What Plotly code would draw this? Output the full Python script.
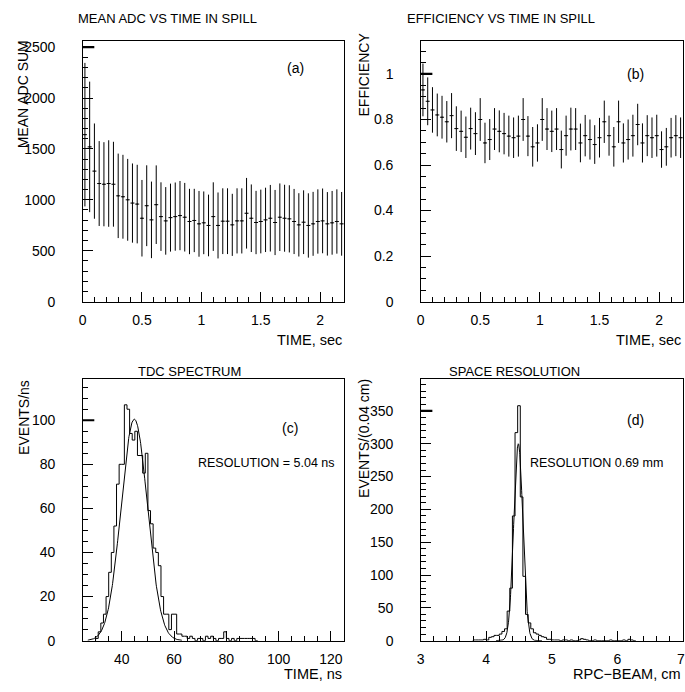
import numpy as np
import plotly.graph_objects as go

W, H = 685, 692
FONT = "Liberation Sans, Arial, sans-serif"

# ---------------- data ----------------
# (a) mean ADC sum vs time in spill, 0.04 s bins
adc_bin_width = 0.04
adc_mean = [1640, 1520, 1282, 1160, 1153, 1160, 1153, 1039, 1030, 1000, 968, 958,
            819, 942, 803, 952, 835, 793, 825, 835, 845, 829, 787, 797, 764, 774,
            748, 835, 748, 790, 790, 754, 793, 793, 868, 819, 777, 787, 803, 819,
            777, 829, 819, 813, 787, 754, 780, 748, 764, 787, 793, 764, 774, 787, 764]
adc_err = [705, 641, 468, 417, 413, 425, 417, 415, 412, 402, 389, 386,
           376, 397, 376, 386, 337, 332, 334, 335, 340, 337, 321, 311, 323, 308,
           303, 337, 324, 323, 323, 305, 320, 320, 347, 332, 311, 313, 316, 327,
           320, 332, 329, 330, 320, 311, 313, 316, 314, 316, 318, 312, 313, 316, 313]

# (b) efficiency vs time in spill, 0.04 s bins
eff_mean = [0.93, 0.88, 0.842, 0.82, 0.81, 0.79, 0.817, 0.76, 0.748, 0.722, 0.76,
            0.738, 0.80, 0.697, 0.712, 0.758, 0.748, 0.738, 0.727, 0.72, 0.727,
            0.80, 0.727, 0.68, 0.697, 0.80, 0.758, 0.748, 0.758, 0.668, 0.729,
            0.758, 0.758, 0.697, 0.729, 0.712, 0.69, 0.72, 0.79, 0.729, 0.68,
            0.79, 0.697, 0.712, 0.729, 0.778, 0.697, 0.729, 0.72, 0.729, 0.668,
            0.68, 0.72, 0.729, 0.72]
eff_err = [0.116, 0.105, 0.100, 0.094, 0.094, 0.091, 0.099, 0.098, 0.091, 0.091,
           0.092, 0.094, 0.094, 0.089, 0.090, 0.092, 0.092, 0.091, 0.090, 0.089,
           0.090, 0.094, 0.088, 0.087, 0.082, 0.094, 0.092, 0.091, 0.092, 0.083,
           0.088, 0.094, 0.092, 0.085, 0.091, 0.088, 0.085, 0.087, 0.093, 0.088,
           0.087, 0.093, 0.086, 0.088, 0.092, 0.091, 0.086, 0.090, 0.089, 0.092,
           0.080, 0.083, 0.087, 0.090, 0.089]

# (c) TDC spectrum, 1 ns bins starting at 30 ns
tdc_first_edge = 30.0
tdc_bin_width = 1.0
tdc_counts = [1, 4, 8, 12, 20, 31, 40, 52, 71, 80, 80, 107, 105, 94, 91, 95, 84, 84,
              76, 85, 59, 53, 42, 40, 34, 20, 12, 12, 5, 12, 12, 3, 3, 2, 2, 1, 2, 1,
              0, 1, 1, 0, 2, 1, 2, 1, 0, 1, 1, 4, 1, 0, 1, 0, 1, 1, 1, 1, 1, 1, 1, 0]
tdc_fit_amp, tdc_fit_mean, tdc_fit_sigma = 100.5, 44.8, 5.04
tdc_fit_range = (27.0, 63.0)

# (d) space resolution, 0.04 cm bins starting at 3.80 cm
sp_first_edge = 3.80
sp_bin_width = 0.04
sp_counts = [1, 1, 1, 1, 2, 1, 5, 6, 8, 8, 10, 14, 18, 45, 80, 190, 317, 358, 219,
             98, 40, 27, 18, 12, 10, 8, 6, 5, 2, 2, 1, 1, 1, 0, 1, 1, 0, 1, 0, 0,
             1, 3, 2, 1, 0, 0, 1, 0, 0, 0, 0, 0, 1, 0, 0, 0, 0, 1, 0, 2, 1, 0]
sp_fit_amp, sp_fit_mean, sp_fit_sigma = 300.0, 4.49, 0.069
sp_fit_range = (4.15, 4.85)

# axis settings: (range, major step, minor step, emphasised top tick)
ax_a = dict(x=([0, 2.2], 0.5, 0.1), y=([0, 2556], 500, 100, 2500))
ax_b = dict(x=([0, 2.2], 0.5, 0.1), y=([0, 1.143], 0.2, 0.05, 1.0))
ax_c = dict(x=([25, 125], 20, 5), y=([0, 118.5], 20, 5, 100))
ax_d = dict(x=([3, 7], 1, 0.2), y=([0, 398], 50, 10, 350))

# ---------------- helpers ----------------
def px_x(px):
    return px / W

def px_y(py):
    return 1 - py / H

def step_xy(first_edge, width, counts):
    edges = first_edge + width * np.arange(len(counts) + 1)
    xs = list(edges)
    ys = list(counts) + [0]
    return [edges[0]] + xs, [0] + ys

fig = go.Figure()

spill_time = adc_bin_width / 2 + adc_bin_width * np.arange(len(adc_mean))

pm_style = dict(mode="markers",
                marker=dict(symbol="line-ew", size=1, color="black",
                            line=dict(width=1, color="black")),
                showlegend=False, hoverinfo="skip")

fig.add_trace(go.Scatter(x=spill_time, y=adc_mean,
                         error_y=dict(type="data", array=adc_err, width=0,
                                      thickness=1, color="black"),
                         error_x=dict(type="constant", value=adc_bin_width * 0.42,
                                      width=0, thickness=1, color="black"),
                         xaxis="x", yaxis="y", **pm_style))
fig.add_trace(go.Scatter(x=spill_time, y=eff_mean,
                         error_y=dict(type="data", array=eff_err, width=0,
                                      thickness=1, color="black"),
                         error_x=dict(type="constant", value=adc_bin_width * 0.42,
                                      width=0, thickness=1, color="black"),
                         xaxis="x2", yaxis="y2", **pm_style))

hx, hy = step_xy(tdc_first_edge, tdc_bin_width, tdc_counts)
fig.add_trace(go.Scatter(x=hx, y=hy, mode="lines", line=dict(shape="hv", color="black", width=1),
                         xaxis="x3", yaxis="y3", showlegend=False, hoverinfo="skip"))
tf = np.linspace(*tdc_fit_range, 300)
fig.add_trace(go.Scatter(x=tf, y=tdc_fit_amp * np.exp(-0.5 * ((tf - tdc_fit_mean) / tdc_fit_sigma) ** 2),
                         mode="lines", line=dict(color="black", width=1),
                         xaxis="x3", yaxis="y3", showlegend=False, hoverinfo="skip"))

sx, sy = step_xy(sp_first_edge, sp_bin_width, sp_counts)
fig.add_trace(go.Scatter(x=sx, y=sy, mode="lines", line=dict(shape="hv", color="black", width=1),
                         xaxis="x4", yaxis="y4", showlegend=False, hoverinfo="skip"))
sf = np.linspace(*sp_fit_range, 300)
fig.add_trace(go.Scatter(x=sf, y=sp_fit_amp * np.exp(-0.5 * ((sf - sp_fit_mean) / sp_fit_sigma) ** 2),
                         mode="lines", line=dict(color="black", width=1),
                         xaxis="x4", yaxis="y4", showlegend=False, hoverinfo="skip"))

# ---------------- axes ----------------
LEFT = (px_x(79), px_x(342))
RIGHT = (px_x(419), px_x(683))
TOP = (px_y(304), px_y(40))
BOT = (px_y(648), px_y(383))

def base_axis(domain, anchor, rng, dtick, minor):
    return dict(domain=domain, anchor=anchor, range=rng, dtick=dtick, tick0=0,
                showline=True, mirror=True, linecolor="black", linewidth=1,
                ticks="inside", ticklen=10, tickwidth=1, tickcolor="black",
                minor=dict(dtick=minor, tick0=0, ticks="inside", ticklen=5,
                           tickwidth=1, tickcolor="black", showgrid=False),
                showgrid=False, zeroline=False,
                tickfont=dict(size=14, family=FONT, color="black"))

def xax(domain, anchor, spec):
    d = base_axis(domain, anchor, *spec)
    d["ticklabelstandoff"] = 6
    return d

def yax(domain, anchor, spec):
    d = base_axis(domain, anchor, *spec[:3])
    d["ticksuffix"] = "\u00a0" * 6
    return d

fig.update_layout(
    width=W, height=H,
    margin=dict(l=0, r=0, t=0, b=0),
    paper_bgcolor="white", plot_bgcolor="white",
    font=dict(family=FONT, color="black"),
    xaxis=xax(LEFT, "y", ax_a["x"]),
    yaxis=yax(TOP, "x", ax_a["y"]),
    xaxis2=xax(RIGHT, "y2", ax_b["x"]),
    yaxis2=yax(TOP, "x2", ax_b["y"]),
    xaxis3=xax(LEFT, "y3", ax_c["x"]),
    yaxis3=yax(BOT, "x3", ax_c["y"]),
    xaxis4=xax(RIGHT, "y4", ax_d["x"]),
    yaxis4=yax(BOT, "x4", ax_d["y"]),
)

# emphasised (thicker) top major tick, as drawn by the original plotter
for xa, ya, spec in (("x", "y", ax_a), ("x2", "y2", ax_b), ("x3", "y3", ax_c), ("x4", "y4", ax_d)):
    fig.add_shape(type="line", xref=f"{xa} domain", yref=ya, x0=0, x1=0.045,
                  y0=spec["y"][3], y1=spec["y"][3], line=dict(color="black", width=2.2))

# last x label of panel (d) sits on the page edge (plotly hides it), draw it explicitly
x4_last = ax_d["x"][0][1]
fig.add_annotation(text=f"{x4_last:g}", x=x4_last, xref="x4", y=0, yref="y4 domain",
                   xanchor="center", yanchor="top", xshift=-2, yshift=-8, showarrow=False,
                   font=dict(size=14, family=FONT, color="black"))

# ---------------- text ----------------
def note(text, x, y, size=14, xanchor="center", yanchor="middle", angle=0):
    fig.add_annotation(text=text, x=px_x(x), y=px_y(y), xref="paper", yref="paper",
                       showarrow=False, xanchor=xanchor, yanchor=yanchor,
                       textangle=angle, font=dict(size=size, family=FONT, color="black"))

note("MEAN ADC VS TIME IN SPILL", 164, 17, size=13)
note("EFFICIENCY VS TIME IN SPILL", 500, 17, size=13)
note("TDC SPECTRUM", 187, 375, size=13)
note("SPACE RESOLUTION", 513, 375, size=13)

note("TIME, sec", 342, 343, size=14.5, xanchor="right")
note("TIME, sec", 683, 343, size=14.5, xanchor="right")
note("TIME, ns", 342, 682, size=14.5, xanchor="right")
note("RPC\u2212BEAM, cm", 683, 682, size=14.5, xanchor="right")

note("MEAN ADC SUM", 20, 37, xanchor="center", yanchor="top", angle=-90)
note("EFFICIENCY", 362, 29, xanchor="center", yanchor="top", angle=-90)
note("EVENTS/ns", 20, 381, xanchor="center", yanchor="top", angle=-90)
note("EVENTS/(0.04 cm)", 362, 380, xanchor="center", yanchor="top", angle=-90)

note("(a)", 293, 67)
note("(b)", 635, 73)
note("(c)", 288, 432)
note("(d)", 635, 424)
note("RESOLUTION = 5.04 ns", 335, 468, size=12.5, xanchor="right")
note("RESOLUTION 0.69 mm", 665, 468, size=12.5, xanchor="right")

fig.write_html("out.html", config={"displayModeBar": False},
               post_script="document.documentElement.style.overflow='hidden';document.body.style.margin='0';document.body.style.overflow='hidden';")
